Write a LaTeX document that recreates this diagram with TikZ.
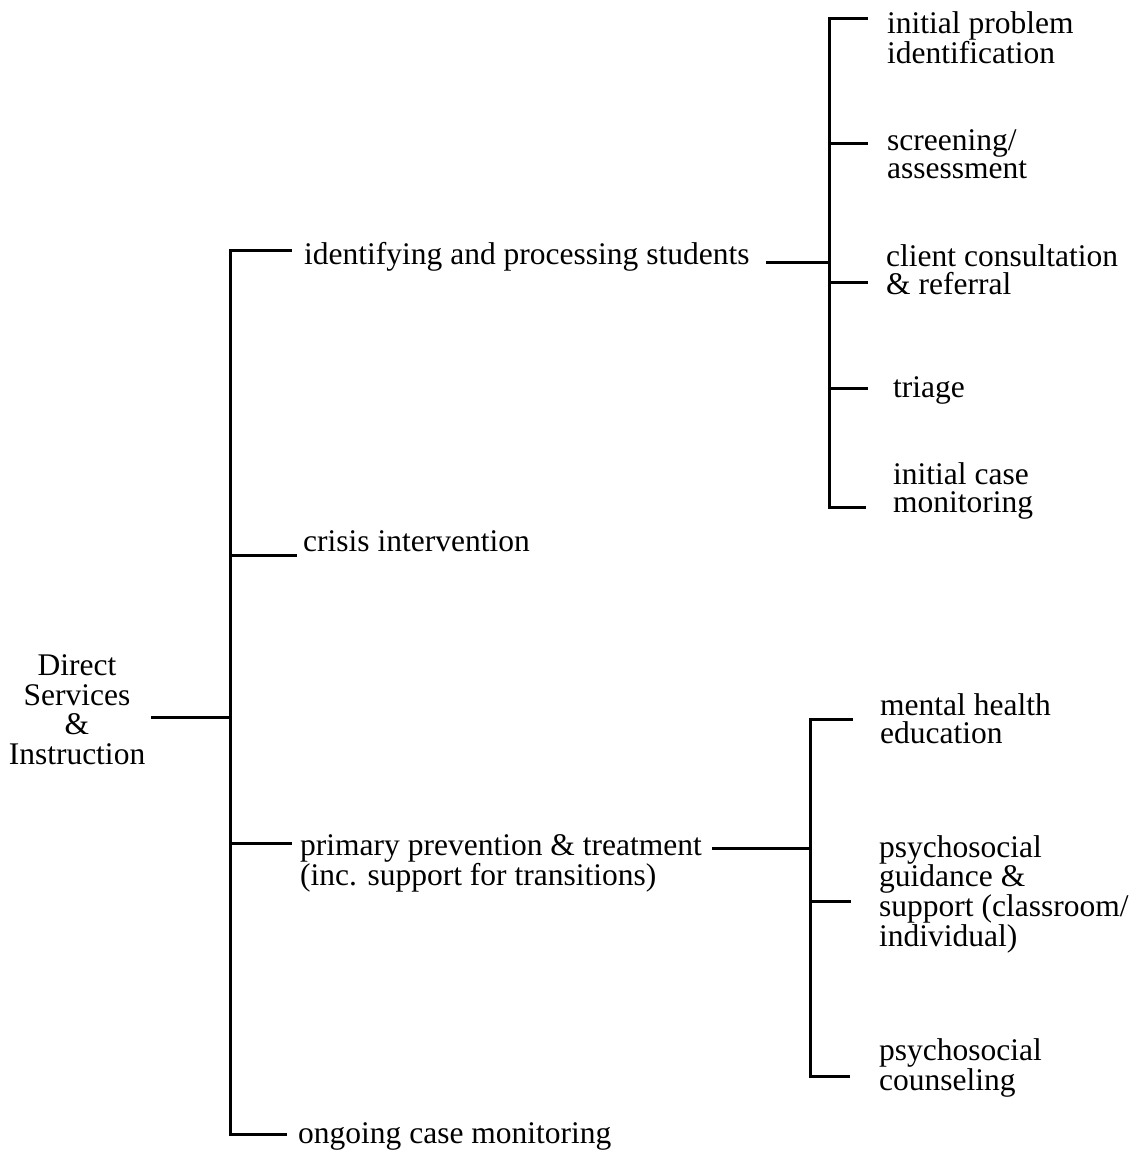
\documentclass[tikz,border=0pt]{standalone}
\usepackage{fontspec}
\setmainfont{Liberation Serif}
\begin{document}
\begin{tikzpicture}[x=1pt,y=-1pt,
  lbl/.style={anchor=base west,inner sep=0pt,align=left,
    font=\fontsize{31.5}{28}\selectfont},
  rootlbl/.style={anchor=base,inner sep=0pt,align=center,
    font=\fontsize{31.5}{29.5}\selectfont},
  wire/.style={line width=3pt,line cap=rect}]
\useasboundingbox (0,0) rectangle (1141,1152);

% root (anchored at the baseline of its last line)
\node[rootlbl] (root) at (77,764) {Direct\\Services\\\&\\Instruction};

% first level
\node[lbl] (ident)  at (304,264) {identifying and processing students};
\node[lbl] (crisis) at (303,551) {crisis intervention};
\node[lbl] (prim)   at (300,885) {primary prevention \& treatment\\(inc. support for transitions)};
\node[lbl] (ongo)   at (298,1143) {ongoing case monitoring};

% second level, upper group
\node[lbl] (ipi)  at (887,63)  {initial problem\\identification};
\node[lbl] (scr)  at (887,178) {screening/\\assessment};
\node[lbl] (cli)  at (886,294) {client consultation\\\& referral};
\node[lbl] (tri)  at (893,397) {triage};
\node[lbl] (icm)  at (893,512) {initial case\\monitoring};

% second level, lower group
\node[lbl] (mhe)  at (880,743)  {mental health\\education};
\node[lbl] (pgs)  at (879,946)  {psychosocial\\guidance \&\\support (classroom/\\individual)};
\node[lbl] (pco)  at (879,1090) {psychosocial\\counseling};

% spine coordinates
\coordinate (s0) at (230,717);
\coordinate (s1) at (230,250);
\coordinate (s2) at (230,555);
\coordinate (s3) at (230,843);
\coordinate (s4) at (230,1134);
\coordinate (u0) at (829,262);
\coordinate (u1) at (829,18);
\coordinate (u2) at (829,143);
\coordinate (u3) at (829,282);
\coordinate (u4) at (829,388);
\coordinate (u5) at (829,507);
\coordinate (w0) at (810,848);
\coordinate (w1) at (810,719);
\coordinate (w2) at (810,901);
\coordinate (w3) at (810,1076);

% root bracket
\draw[wire] (s1) -- (s4);
\draw[wire] (152,717) -- (s0);
\draw[wire] (s1) -- (290,250);
\draw[wire] (s2) -- (295,555);
\draw[wire] (s3) -- (290,843);
\draw[wire] (s4) -- (285,1134);

% upper bracket
\draw[wire] (u1) -- (u5);
\draw[wire] (ident.east |- u0) ++(18,0) -- (u0);
\draw[wire] (u1) -- (866,18);
\draw[wire] (u2) -- (866,143);
\draw[wire] (u3) -- (866,282);
\draw[wire] (u4) -- (866,388);
\draw[wire] (u5) -- (864,507);

% lower bracket
\draw[wire] (w1) -- (w3);
\draw[wire] (prim.east |- w0) ++(12,0) -- (w0);
\draw[wire] (w1) -- (851,719);
\draw[wire] (w2) -- (849,901);
\draw[wire] (w3) -- (848,1076);
\end{tikzpicture}
\end{document}
